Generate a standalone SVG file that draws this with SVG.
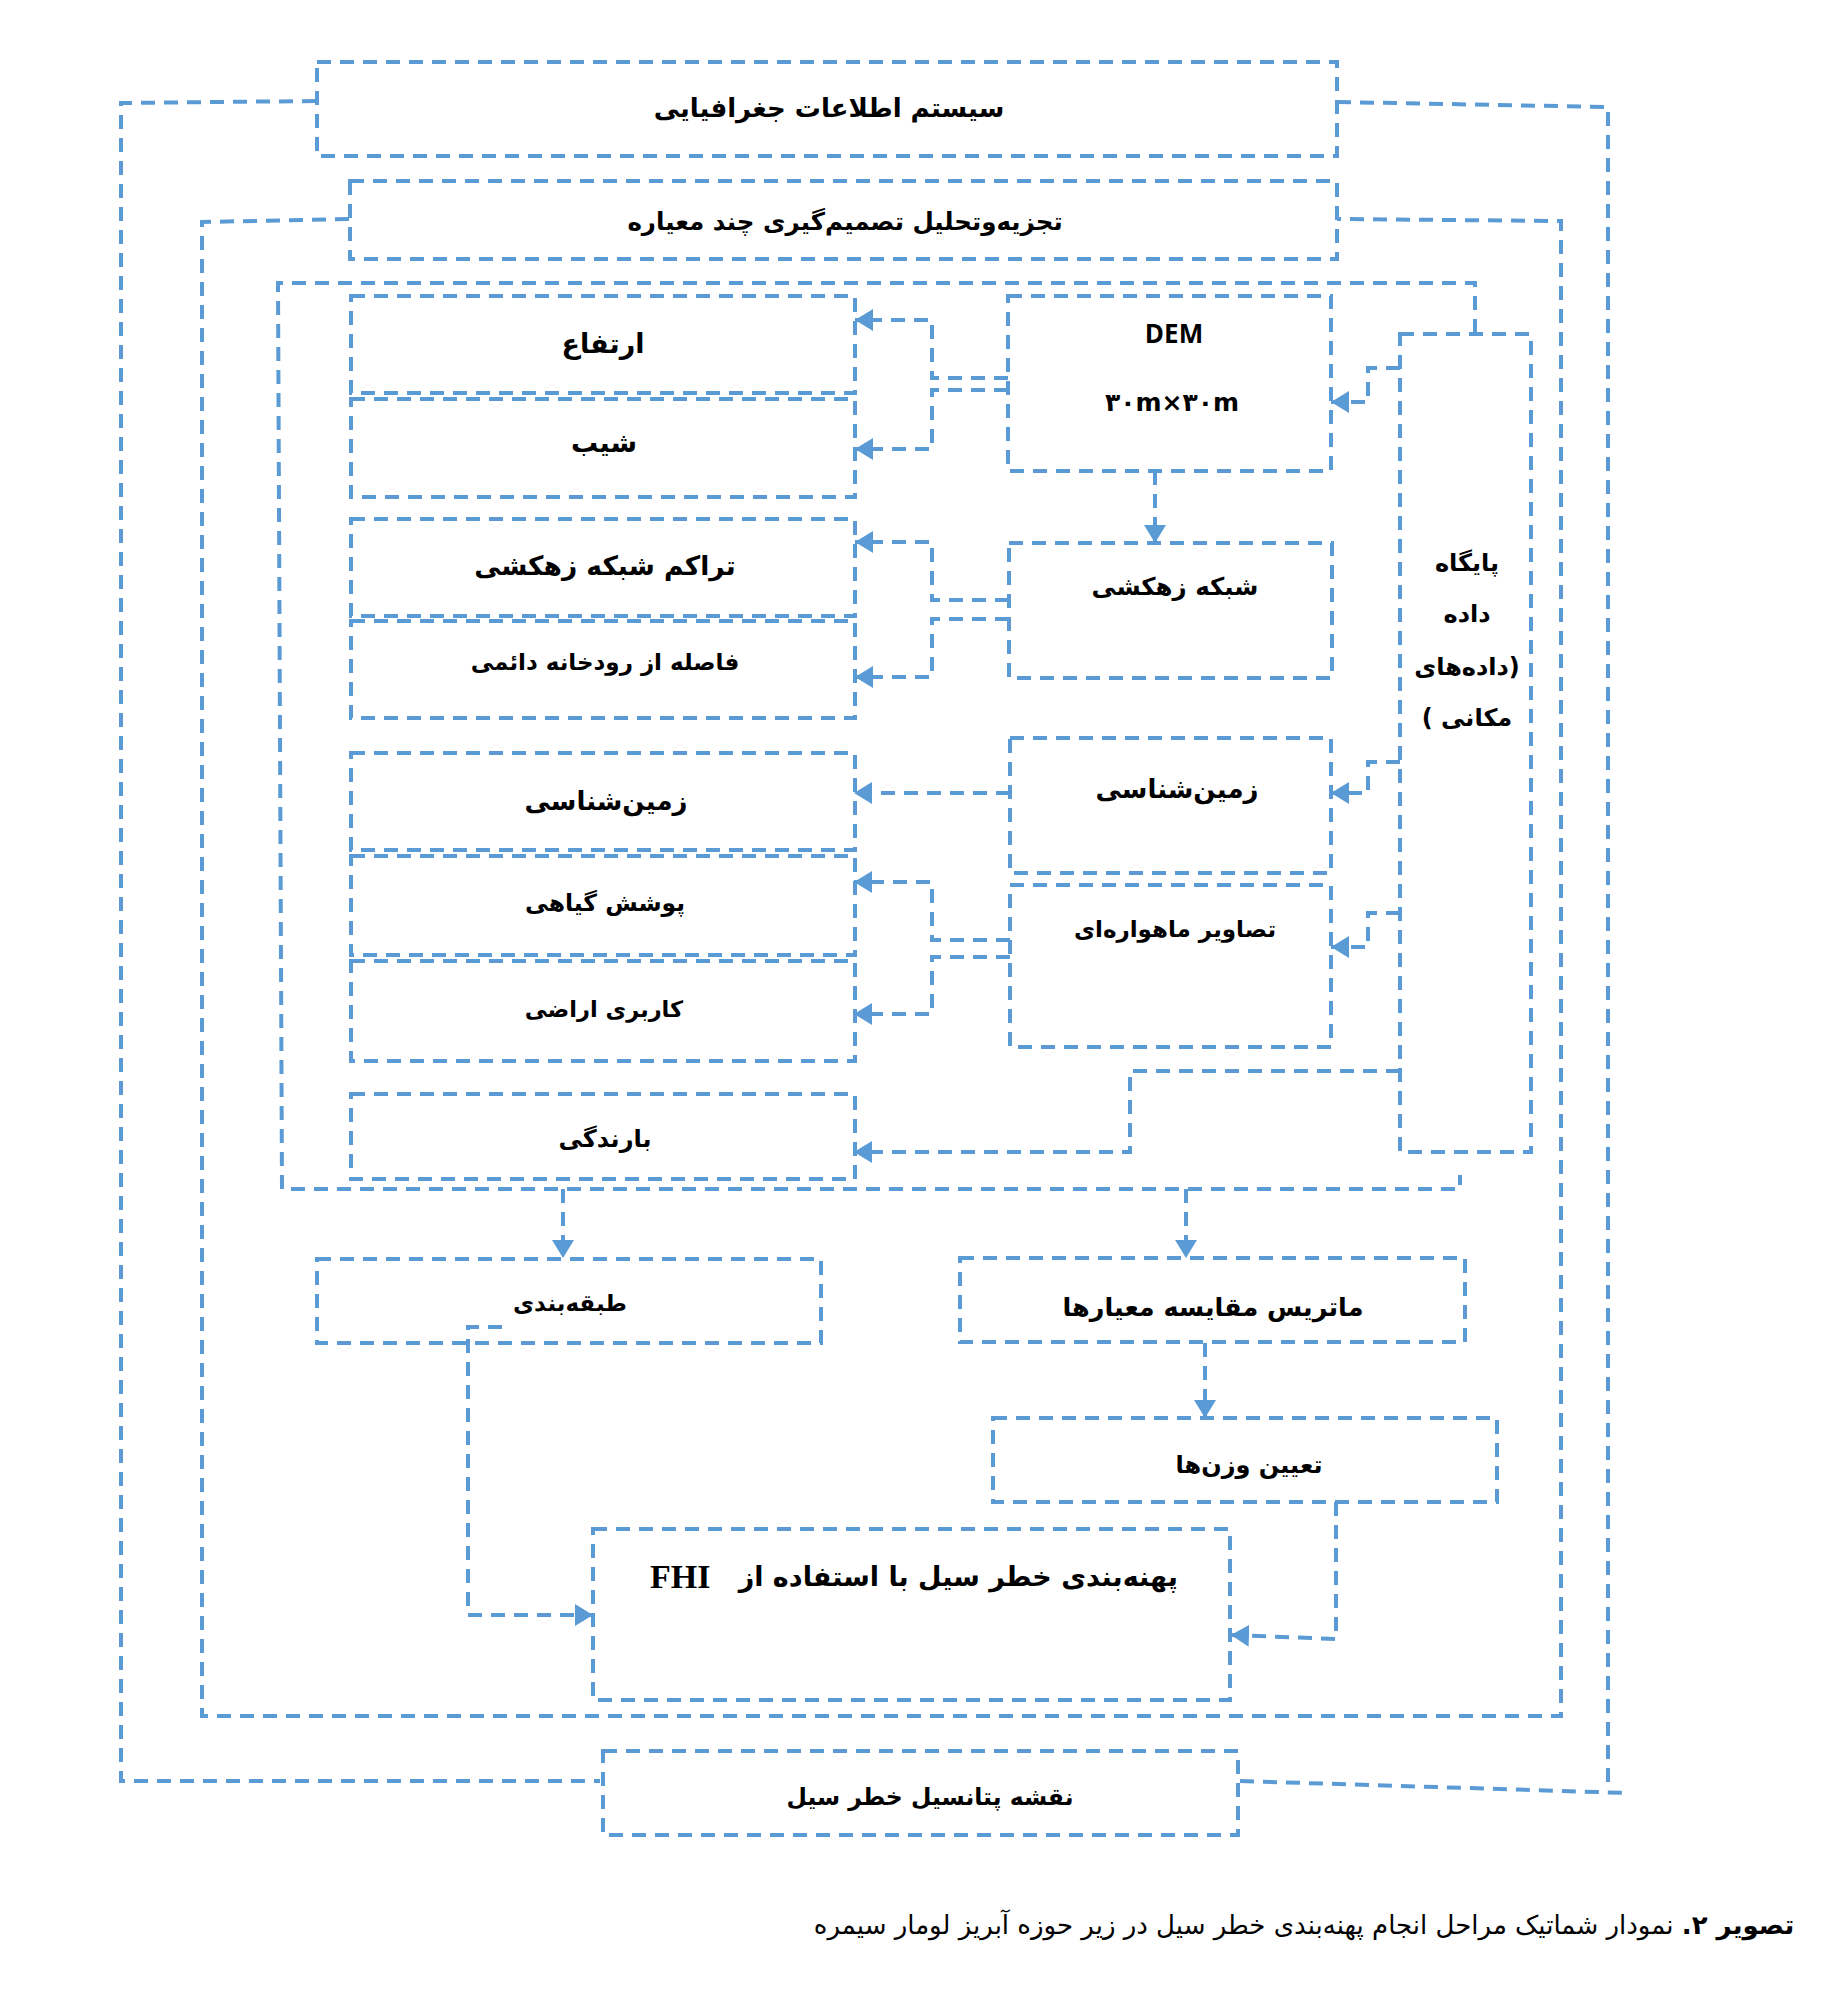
<svg xmlns="http://www.w3.org/2000/svg" width="1821" height="2000" viewBox="0 0 1821 2000">
<style>
.b{fill:none;stroke:#5B9BD5;stroke-width:4;stroke-dasharray:14 9}
.c{fill:none;stroke:#5B9BD5;stroke-width:4;stroke-dasharray:14 9}
.t{font-family:"DejaVu Sans",sans-serif;font-weight:bold;fill:#000;text-anchor:middle;dominant-baseline:central}
.S{font-size:24px}
</style>
<defs>
<marker id="ah" markerUnits="userSpaceOnUse" markerWidth="20" markerHeight="24" refX="18" refY="11" orient="auto">
<path d="M0,0 L18,11 L0,22 z" fill="#5B9BD5"/>
</marker>
</defs>
<rect width="1821" height="2000" fill="#fff"/>
<g id="connectors">
<path class="c" d="M316,101 L121,103 L121,1781 L600,1781"/>
<path class="c" d="M1337,102 L1608,107 L1608,1782"/>
<path class="c" d="M1240,1781 L1628,1793"/>
<path class="c" d="M349,219 L202,222 L202,1716 L1561,1716 L1561,221 L1337,219"/>
<path class="c" d="M1475,333 L1475,283 L278,283 L282,1189 L1460,1189 L1460,1175"/>
<path class="c" marker-end="url(#ah)" d="M1008,378 L932,378 L932,320 L855,320"/>
<path class="c" marker-end="url(#ah)" d="M1008,390 L932,390 L932,449 L855,449"/>
<path class="c" marker-end="url(#ah)" d="M1155,471 L1155,543"/>
<path class="c" marker-end="url(#ah)" d="M1009,600 L932,600 L932,542 L855,542"/>
<path class="c" marker-end="url(#ah)" d="M1009,619 L932,619 L932,677 L855,677"/>
<path class="c" marker-end="url(#ah)" d="M1010,793 L854,793"/>
<path class="c" marker-end="url(#ah)" d="M1010,940 L932,940 L932,882 L854,882"/>
<path class="c" marker-end="url(#ah)" d="M1010,957 L932,957 L932,1014 L854,1014"/>
<path class="c" marker-end="url(#ah)" d="M1400,368 L1368,368 L1368,402 L1331,402"/>
<path class="c" marker-end="url(#ah)" d="M1400,762 L1368,762 L1368,793 L1331,793"/>
<path class="c" marker-end="url(#ah)" d="M1400,913 L1368,913 L1368,947 L1331,947"/>
<path class="c" marker-end="url(#ah)" d="M1400,1071 L1130,1071 L1130,1152 L854,1152"/>
<path class="c" marker-end="url(#ah)" d="M563,1189 L563,1258"/>
<path class="c" marker-end="url(#ah)" d="M1186,1189 L1186,1258"/>
<path class="c" marker-end="url(#ah)" d="M1205,1343 L1205,1418"/>
<path class="c" marker-end="url(#ah)" d="M1336,1502 L1336,1639 L1231,1635"/>
<path class="c" marker-end="url(#ah)" d="M502,1327 L468,1327 L468,1615 L593,1615"/>
</g>
<g id="gis"><rect class="b" x="317" y="62" width="1020" height="94"/><text class="t" style="font-size:26px" x="829" y="108">سیستم اطلاعات جغرافیایی</text></g>
<g id="mcda"><rect class="b" x="350" y="181" width="987" height="78"/><text class="t" style="font-size:24.5px" x="845" y="221">تجزیه‌وتحلیل تصمیم‌گیری چند معیاره</text></g>
<g id="elev"><rect class="b" x="351" y="296" width="504" height="97"/><text class="t" style="font-size:27px" x="603" y="343">ارتفاع</text></g>
<g id="slope"><rect class="b" x="351" y="399" width="504" height="98"/><text class="t" style="font-size:27px" x="604" y="442">شیب</text></g>
<g id="drainden"><rect class="b" x="351" y="519" width="504" height="97"/><text class="t" style="font-size:26.5px" x="605" y="565">تراکم شبکه زهکشی</text></g>
<g id="river"><rect class="b" x="351" y="621" width="504" height="97"/><text class="t" style="font-size:23px" x="605" y="662">فاصله از رودخانه دائمی</text></g>
<g id="geol"><rect class="b" x="351" y="753" width="504" height="97"/><text class="t" style="font-size:26px" x="606" y="801">زمین‌شناسی</text></g>
<g id="veg"><rect class="b" x="351" y="856" width="504" height="99"/><text class="t" style="font-size:23.5px" x="605" y="903">پوشش گیاهی</text></g>
<g id="landuse"><rect class="b" x="351" y="961" width="504" height="100"/><text class="t" style="font-size:22.5px" x="604" y="1009">کاربری اراضی</text></g>
<g id="rain"><rect class="b" x="351" y="1094" width="504" height="85"/><text class="t" style="font-size:24px" x="605" y="1139">بارندگی</text></g>
<g id="dem"><rect class="b" x="1008" y="296" width="323" height="175"/><text class="t" style="font-family:'Open Sans','Liberation Sans',sans-serif;font-size:26px" x="1174" y="333">DEM</text><text class="t" style="font-size:25px" x="1172" y="402">۳۰m×۳۰m</text></g>
<g id="drain"><rect class="b" x="1009" y="543" width="323" height="135"/><text class="t" style="font-size:24.5px" x="1175" y="586">شبکه زهکشی</text></g>
<g id="geolr"><rect class="b" x="1010" y="738" width="321" height="135"/><text class="t" style="font-size:26px" x="1177" y="789">زمین‌شناسی</text></g>
<g id="sat"><rect class="b" x="1010" y="885" width="321" height="162"/><text class="t" style="font-size:23px" x="1175" y="929">تصاویر ماهواره‌ای</text></g>
<g id="db"><rect class="b" x="1400" y="334" width="131" height="818"/>
<text class="t S" direction="rtl" x="1467" y="563">پایگاه</text>
<text class="t S" direction="rtl" x="1467" y="614">داده</text>
<text class="t S" direction="rtl" x="1467" y="667">(داده‌های</text>
<text class="t S" direction="rtl" x="1467" y="718">مکانی )</text></g>
<g id="classify"><rect class="b" x="317" y="1259" width="504" height="84"/><text class="t" style="font-size:23px" x="570" y="1303">طبقه‌بندی</text></g>
<g id="matrix"><rect class="b" x="960" y="1258" width="505" height="84"/><text class="t" style="font-size:25.5px" x="1213" y="1307">ماتریس مقایسه معیارها</text></g>
<g id="weights"><rect class="b" x="993" y="1418" width="504" height="84"/><text class="t" style="font-size:24px" x="1249" y="1465">تعیین وزن‌ها</text></g>
<g id="fhi"><rect class="b" x="593" y="1529" width="637" height="171"/><text class="t" style="font-size:27px" direction="rtl" x="914" y="1576">پهنه‌بندی خطر سیل با استفاده از&#160;&#160; <tspan style="font-family:'Liberation Serif',serif;font-size:34px">FHI</tspan></text></g>
<g id="map"><rect class="b" x="603" y="1751" width="635" height="84"/><text class="t" style="font-size:23.5px" x="930" y="1797">نقشه پتانسیل خطر سیل</text></g>
<text class="t" direction="rtl" style="font-size:26px;font-weight:normal" x="1304" y="1925"><tspan font-weight="bold">تصویر ۲.</tspan> نمودار شماتیک مراحل انجام پهنه‌بندی خطر سیل در زیر حوزه آبریز لومار سیمره</text>
</svg>
